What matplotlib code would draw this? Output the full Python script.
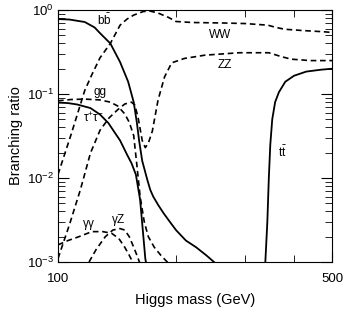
import numpy as np
import matplotlib.pyplot as plt
from matplotlib.ticker import FixedLocator, FixedFormatter, NullFormatter

plt.rcParams['font.family'] = ['Liberation Sans', 'DejaVu Sans']
plt.rcParams['mathtext.default'] = 'regular'

# Werte (Masse in GeV, Verzweigungsverhaeltnis)
bb_m = [100, 107, 117, 124, 128, 136, 144, 151, 156, 159, 161, 164, 169, 172, 175, 180, 186, 193, 200, 212, 225, 239, 250, 258]
bb_br = [0.78, 0.77, 0.72, 0.62, 0.53, 0.40, 0.24, 0.14, 0.08, 0.045, 0.028, 0.016, 0.0095, 0.0072, 0.006, 0.0048, 0.0038, 0.003, 0.0024, 0.0018, 0.0015, 0.0012, 0.001, 0.0009]

tau_m = [100, 106, 112, 121, 128, 134.5, 140, 144, 150, 154, 158, 162, 167, 169]
tau_br = [0.079, 0.078, 0.075, 0.068, 0.057, 0.045, 0.034, 0.028, 0.019, 0.015, 0.011, 0.0055, 0.0011, 0.0008]

gg_m = [100, 108, 117, 128, 136, 142, 148, 152, 156, 159, 162, 166, 170, 176, 183, 192]
gg_br = [0.083, 0.086, 0.087, 0.085, 0.080, 0.072, 0.058, 0.046, 0.032, 0.014, 0.006, 0.003, 0.002, 0.0015, 0.0012, 0.00095]

ww_m = [100, 108, 117, 122, 128, 136, 144, 150, 156, 165, 172, 180, 191, 200, 220, 266, 300, 343, 360, 379, 420, 479, 500]
ww_br = [0.011, 0.033, 0.11, 0.17, 0.27, 0.40, 0.66, 0.78, 0.87, 0.96, 0.97, 0.92, 0.82, 0.73, 0.71, 0.70, 0.69, 0.66, 0.62, 0.59, 0.57, 0.55, 0.54]

zz_m = [100, 107, 114, 121, 128, 135, 142, 148, 154, 157, 160, 164, 167, 170, 174, 180, 187, 195, 210, 237, 290, 345, 370, 393, 440, 500]
zz_br = [0.0011, 0.0028, 0.0072, 0.0198, 0.037, 0.052, 0.065, 0.076, 0.080, 0.074, 0.053, 0.028, 0.023, 0.026, 0.036, 0.085, 0.16, 0.235, 0.265, 0.29, 0.31, 0.31, 0.28, 0.26, 0.25, 0.25]

tt_m = [338, 342, 345, 348, 352, 358, 366, 380, 400, 430, 470, 500]
tt_br = [0.001, 0.003, 0.01, 0.025, 0.05, 0.08, 0.105, 0.14, 0.165, 0.185, 0.195, 0.2]

aa_m = [100, 106, 113, 122, 130, 137, 143, 148, 152, 156]
aa_br = [0.0016, 0.0018, 0.002, 0.0023, 0.0023, 0.0022, 0.0019, 0.0015, 0.0012, 0.00095]

az_m = [120, 125, 132, 138, 144, 148, 152, 156, 159, 162]
az_br = [0.001, 0.0014, 0.002, 0.0024, 0.0025, 0.0024, 0.002, 0.0015, 0.0012, 0.00095]

labels = [
    (r'$b\bar{b}$', 131, 0.76),
    ('WW', 259, 0.50),
    ('ZZ', 266, 0.22),
    ('gg', 128, 0.106),
    (r'$\tau^{+}\tau^{-}$', 123, 0.052),
    (r'$\gamma\gamma$', 119.6, 0.00275),
    (r'$\gamma Z$', 142.4, 0.00316),
    (r'$t\bar{t}$', 375, 0.0204),
]

fig = plt.figure(figsize=(3.44, 3.10), dpi=100)
ax = fig.add_axes([0.1686, 0.1548, 0.7965, 0.8129])

solid = dict(color='black', lw=1.3)
dashed = dict(color='black', lw=1.2, ls=(0, (3.4, 2.2)))

ax.plot(bb_m, bb_br, **solid)
ax.plot(tau_m, tau_br, **solid)
ax.plot(tt_m, tt_br, **solid)
ax.plot(gg_m, gg_br, **dashed)
ax.plot(ww_m, ww_br, **dashed)
ax.plot(zz_m, zz_br, **dashed)
ax.plot(aa_m, aa_br, **dashed)
ax.plot(az_m, az_br, **dashed)

for txt, x, y in labels:
    ax.text(x, y, txt, ha='center', va='center', fontsize=8.5)

ax.set_xscale('log')
ax.set_yscale('log')
ax.set_xlim(100, 500)
ax.set_ylim(1e-3, 1)

ax.xaxis.set_major_locator(FixedLocator([100, 500]))
ax.xaxis.set_major_formatter(FixedFormatter(['100', '500']))
ax.xaxis.set_minor_locator(FixedLocator([200, 300, 400]))
ax.xaxis.set_minor_formatter(NullFormatter())

ax.yaxis.set_major_locator(FixedLocator([1e-3, 1e-2, 1e-1, 1]))
ax.yaxis.set_major_formatter(FixedFormatter(['10$^{-3}$', '10$^{-2}$', '10$^{-1}$', '10$^{0}$']))

ax.tick_params(which='both', direction='in', top=True, right=True, labelsize=9.5)
ax.tick_params(which='major', length=8, width=0.8)
ax.tick_params(which='minor', length=5, width=0.6)
ax.tick_params(axis='x', pad=8)
ax.tick_params(axis='y', pad=3)

ax.set_xlabel('Higgs mass (GeV)', fontsize=10.5, labelpad=6)
ax.set_ylabel('Branching ratio', fontsize=10.5, labelpad=3)

fig.savefig('out.png', dpi=100)
